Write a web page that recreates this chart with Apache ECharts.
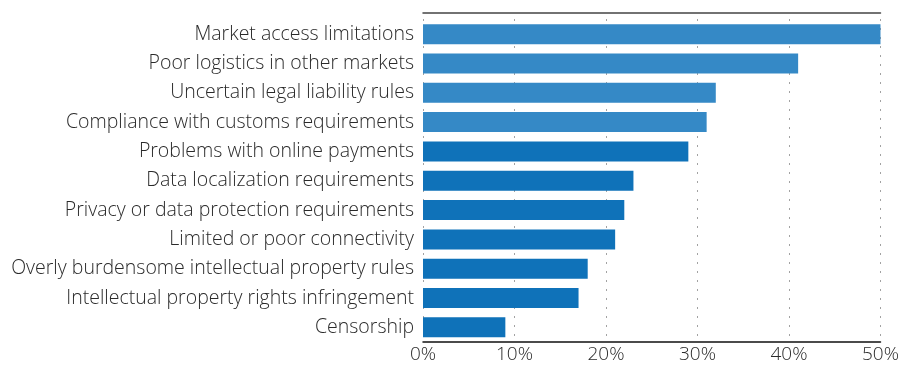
<!DOCTYPE html>
<html><head><meta charset="utf-8">
<script src="https://cdn.jsdelivr.net/npm/echarts@6/dist/echarts.min.js"></script>
<style>html,body{margin:0;padding:0;background:#fff}#c{width:902px;height:365px}</style>
</head><body><div id="c"></div>
<script>
const categories = [
  "Market access limitations",
  "Poor logistics in other markets",
  "Uncertain legal liability rules",
  "Compliance with customs requirements",
  "Problems with online payments",
  "Data localization requirements",
  "Privacy or data protection requirements",
  "Limited or poor connectivity",
  "Overly burdensome intellectual property rules",
  "Intellectual property rights infringement",
  "Censorship"
];
const values = [50, 41, 32, 31, 29, 23, 22, 21, 18, 17, 9];
const highlightCount = 4;

const chart = echarts.init(document.getElementById('c'));
const font = '"Open Sans", "Noto Sans", sans-serif';
chart.setOption({
  animation: false,
  grid: {left: 423, right: 21, top: 19.5, bottom: 23},
  xAxis: [{
    type: 'value', min: 0, max: 50, interval: 10, position: 'bottom',
    axisLine: {show: true, lineStyle: {color: '#111', width: 1.5}},
    axisTick: {show: false},
    axisLabel: {formatter: '{value}%', color: '#2a2a2a', fontSize: 19, fontFamily: font, fontWeight: 300, margin: 3},
    splitLine: {show: true, lineStyle: {color: '#444', type: [1, 8], width: 1}}
  }, {
    type: 'value', min: 0, max: 50, interval: 10, position: 'top', offset: 6.5,
    axisLine: {show: true, lineStyle: {color: '#444', width: 1.5}},
    axisTick: {show: false}, axisLabel: {show: false}, splitLine: {show: false}
  }],
  yAxis: {
    type: 'category', data: categories, inverse: true,
    axisLine: {show: false}, axisTick: {show: false},
    axisLabel: {color: '#2a2a2a', fontSize: 19.5, fontFamily: font, fontWeight: 300, margin: 9}
  },
  series: [{
    type: 'bar', xAxisIndex: 0,
    data: values.map((v, i) => ({value: v, itemStyle: {color: i < highlightCount ? '#3589C6' : '#0F72B9'}})),
    barWidth: 20
  }]
});
</script></body></html>
